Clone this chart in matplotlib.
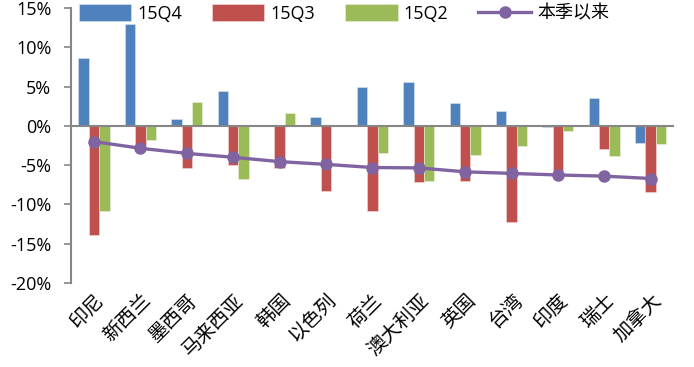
import numpy as np
import matplotlib
matplotlib.use('Agg')
import matplotlib.pyplot as plt
from matplotlib.ticker import FuncFormatter

plt.rcParams['font.family'] = ['Open Sans', 'Noto Sans CJK SC', 'DejaVu Sans']

countries = ['印尼', '新西兰', '墨西哥', '马来西亚', '韩国', '以色列', '荷兰',
             '澳大利亚', '英国', '台湾', '印度', '瑞士', '加拿大']
q4 = [8.7, 13.0, 0.85, 4.45, 0.0, 1.15, 4.9, 5.6, 2.9, 1.9, -0.1, 3.55, -2.2]
q3 = [-13.9, -2.4, -5.3, -5.0, -5.3, -8.3, -10.8, -7.2, -7.0, -12.2, -6.2, -3.0, -8.45]
q2 = [-10.9, -1.8, 3.1, -6.75, 1.6, 0.0, -3.4, -7.0, -3.7, -2.6, -0.6, -3.8, -2.3]
ytd = [-2.0, -2.85, -3.5, -4.0, -4.55, -4.9, -5.3, -5.35, -5.85, -6.05, -6.25, -6.4, -6.7]
series_names = ['15Q4', '15Q3', '15Q2', '本季以来']

c_blue = '#4F81BD'
c_red = '#C0504D'
c_green = '#9BBB59'
c_purple = '#8064A2'

fig = plt.figure(figsize=(6.94, 3.67), dpi=100)
ax = fig.add_axes([0.102, 0.229, 0.869, 0.749])

x = np.arange(len(countries))
w = 0.224
b1 = ax.bar(x - w, q4, w, color=c_blue, edgecolor='#dbe5f1', linewidth=0.4, label=series_names[0], zorder=2)
b2 = ax.bar(x, q3, w, color=c_red, edgecolor='#f2dcdb', linewidth=0.4, label=series_names[1], zorder=2)
b3 = ax.bar(x + w, q2, w, color=c_green, edgecolor='#ebf1de', linewidth=0.4, label=series_names[2], zorder=2)
ln, = ax.plot(x, ytd, color=c_purple, lw=2.4, marker='o', markersize=8, label=series_names[3], zorder=4)

ax.axhline(0, color='#868686', lw=1.5, zorder=3)
ax.set_xlim(-0.5, len(countries) - 0.5)
ax.set_ylim(-20, 15)
ax.set_yticks(np.arange(-20, 16, 5))
ax.yaxis.set_major_formatter(FuncFormatter(lambda v, p: f'{v:.0f}%'))
ax.tick_params(axis='y', length=5, width=1.2, color='#868686', labelsize=13, pad=9)
ax.tick_params(axis='x', length=0, pad=5)
ax.set_xticks(x)
ax.set_xticklabels(countries, rotation=45, ha='right', rotation_mode='anchor',
                   fontsize=14, family=['Noto Sans CJK SC', 'DejaVu Sans'])
for s in ['top', 'right', 'bottom']:
    ax.spines[s].set_visible(False)
ax.spines['left'].set_color('#868686')
ax.spines['left'].set_linewidth(1.5)

leg = ax.legend([b1, b2, b3, ln], series_names, loc='upper left', bbox_to_anchor=(0.01, 1.02),
                ncol=4, frameon=True, fontsize=13, handlelength=2.9, handleheight=1.0,
                handletextpad=0.35, columnspacing=1.65, borderpad=0.1, borderaxespad=0.0)
leg.get_frame().set_facecolor('white')
leg.get_frame().set_edgecolor('none')
leg.get_frame().set_alpha(1)
leg.set_zorder(1)

fig.savefig('out.png', dpi=100)
